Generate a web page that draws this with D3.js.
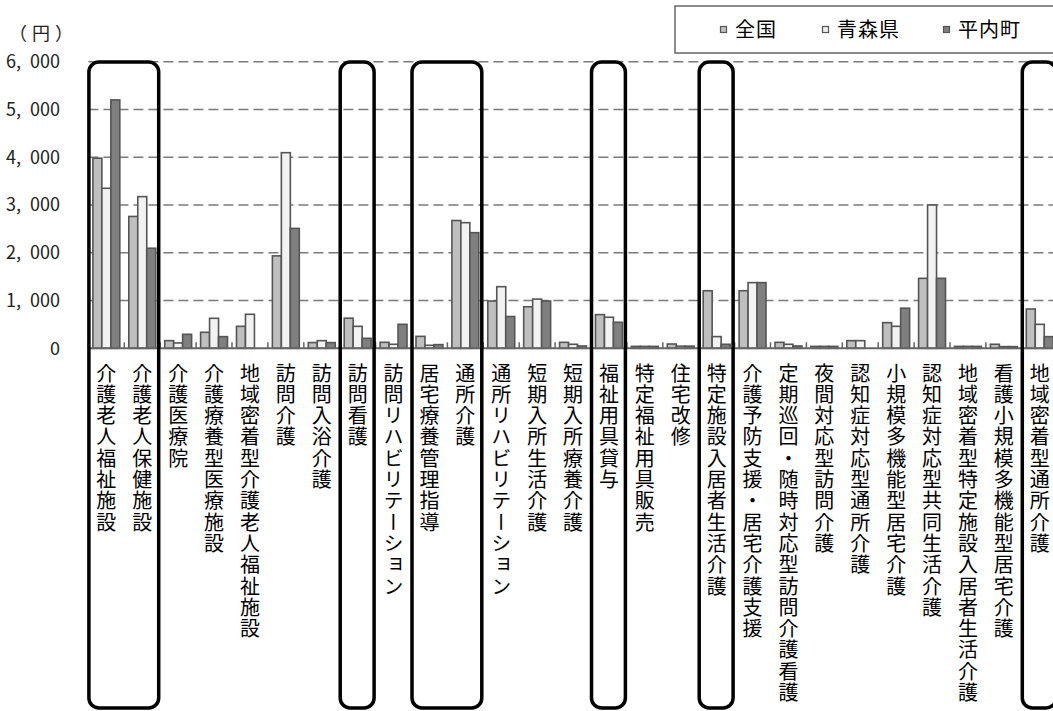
<!DOCTYPE html>
<html>
<head>
<meta charset="utf-8">
<script src="https://cdn.jsdelivr.net/npm/d3@7"></script>
<style>
  body { margin: 0; background: #fff; }
  svg text { font-family: "Noto Sans CJK JP", "Noto Sans", sans-serif; fill: #000; }
</style>
</head>
<body>
<svg id="chart" width="1053" height="711"></svg>
<script>
// categories (service types)
var categories = [
  "介護老人福祉施設", "介護老人保健施設", "介護医療院", "介護療養型医療施設",
  "地域密着型介護老人福祉施設", "訪問介護", "訪問入浴介護", "訪問看護",
  "訪問リハビリテーション", "居宅療養管理指導", "通所介護", "通所リハビリテーション",
  "短期入所生活介護", "短期入所療養介護", "福祉用具貸与", "特定福祉用具販売",
  "住宅改修", "特定施設入居者生活介護", "介護予防支援・居宅介護支援",
  "定期巡回・随時対応型訪問介護看護", "夜間対応型訪問介護", "認知症対応型通所介護",
  "小規模多機能型居宅介護", "認知症対応型共同生活介護",
  "地域密着型特定施設入居者生活介護", "看護小規模多機能型居宅介護", "地域密着型通所介護"
];

var seriesNames = ["全国", "青森県", "平内町"];

// values (円)
var zenkoku = [3980, 2760, 160, 335, 460, 1935, 120, 630, 125, 250, 2675, 990, 870, 125,
               705, 40, 90, 1205, 1205, 125, 40, 160, 537, 1465, 40, 84, 823];
var aomori  = [3350, 3175, 112, 628, 712, 4095, 160, 460, 84, 63, 2630, 1290, 1030, 84,
               650, 40, 45, 245, 1375, 84, 40, 160, 460, 3000, 40, 35, 502];
var hiranai = [5200, 2095, 293, 244, 0, 2510, 119, 209, 502, 77, 2420, 665, 990, 49,
               545, 40, 45, 84, 1375, 49, 40, 0, 840, 1465, 40, 35, 244];

var yTicks = [0, 1000, 2000, 3000, 4000, 5000, 6000];

// groups circled in the original (first index, last index)
var highlights = [[0, 1], [7, 7], [9, 10], [14, 14], [17, 17], [26, 26]];

var fills = ["#bfbfbf", "#f2f2f2", "#7f7f7f"];
var seriesData = [zenkoku, aomori, hiranai];

var svg = d3.select("#chart");
var x0 = 88.4, step = 35.9;
var yTop = 61.7, yBase = 348.3;   // note: "top" clashes with window.top

var x = d3.scaleBand()
  .domain(categories)
  .range([x0, x0 + step * categories.length])
  .paddingInner(0.25)
  .paddingOuter(0.125);
var xs = d3.scaleBand().domain(seriesNames).range([0, x.bandwidth()]);
var y = d3.scaleLinear().domain([0, 6000]).range([yBase, yTop]);

// "6, 000" style labels like the original (en space so svg keeps the gap)
var fmt = function (v) { return d3.format(",")(v).replace(",", ",\u2002"); };

// gridlines
svg.append("g").selectAll("line")
  .data(yTicks.filter(function (d) { return d > 0; }))
  .join("line")
  .attr("x1", x0).attr("x2", 1060)
  .attr("y1", function (d) { return y(d); }).attr("y2", function (d) { return y(d); })
  .attr("stroke", "#7a7a7a").attr("stroke-width", 1.6)
  .attr("stroke-dasharray", "10,5");

// y labels
svg.append("g").selectAll("text")
  .data(yTicks)
  .join("text")
  .attr("x", 60).attr("y", function (d) { return y(d); })
  .attr("dy", "0.36em")
  .attr("text-anchor", "end")
  .style("font-size", "18px")
  .style("fill", "#222")
  .text(fmt);

svg.append("text").attr("x", 9).attr("y", 40)
  .style("font-size", "18px").style("letter-spacing", "5px")
  .style("fill", "#222").text("（円）");

// bars
var groups = svg.append("g").selectAll("g")
  .data(categories)
  .join("g")
  .attr("transform", function (d) { return "translate(" + x(d) + ",0)"; });

groups.selectAll("rect")
  .data(function (d, i) {
    return seriesNames.map(function (s, k) { return { s: s, k: k, v: seriesData[k][i] }; })
      .filter(function (e) { return e.v > 0; });
  })
  .join("rect")
  .attr("x", function (d) { return xs(d.s); })
  .attr("width", xs.bandwidth())
  .attr("y", function (d) { return y(d.v); })
  .attr("height", function (d) { return yBase - y(d.v); })
  .attr("fill", function (d) { return fills[d.k]; })
  .attr("stroke", "#555")
  .attr("stroke-width", 1.6);

// baseline and inside ticks
svg.append("line").attr("x1", x0).attr("x2", 1060)
  .attr("y1", yBase).attr("y2", yBase)
  .attr("stroke", "#666").attr("stroke-width", 2);
svg.append("g").selectAll("line")
  .data(d3.range(categories.length + 1))
  .join("line")
  .attr("x1", function (i) { return x0 + i * step; })
  .attr("x2", function (i) { return x0 + i * step; })
  .attr("y1", yBase).attr("y2", yBase - 6)
  .attr("stroke", "#666").attr("stroke-width", 1.5);

// vertical category labels
svg.append("g").selectAll("text")
  .data(categories)
  .join("text")
  .attr("x", function (d) { return x(d) + x.bandwidth() / 2; })
  .attr("y", 363)
  .style("writing-mode", "vertical-rl")
  .style("text-orientation", "upright")
  .style("font-size", "20px")
  .style("letter-spacing", "1.3px")
  .text(function (d) { return d; });

// rounded highlight frames
svg.append("g").selectAll("rect")
  .data(highlights)
  .join("rect")
  .attr("x", function (h) { return x0 + h[0] * step + 0.5; })
  .attr("width", function (h) { return (h[1] - h[0] + 1) * step - 2; })
  .attr("y", 62).attr("height", 646)
  .attr("rx", 10).attr("ry", 10)
  .attr("fill", "none").attr("stroke", "#000").attr("stroke-width", 3.5);

// legend
var lg = svg.append("g");
lg.append("rect").attr("x", 675).attr("y", 6).attr("width", 400).attr("height", 47)
  .attr("fill", "#fff").attr("stroke", "#666").attr("stroke-width", 1.5);
var legendX = [720, 822, 943];
var items = lg.selectAll("g.item").data(seriesNames).join("g").attr("class", "item")
  .attr("transform", function (d, i) { return "translate(" + legendX[i] + ",0)"; });
items.append("rect").attr("x", 0.5).attr("y", 26.5).attr("width", 6).attr("height", 6)
  .attr("fill", function (d, i) { return fills[i]; })
  .attr("stroke", "#555").attr("stroke-width", 1.2);
items.append("text").attr("x", 15).attr("y", 30).attr("dy", "0.36em")
  .style("font-size", "20px").style("letter-spacing", "1px")
  .text(function (d) { return d; });
</script>
</body>
</html>
